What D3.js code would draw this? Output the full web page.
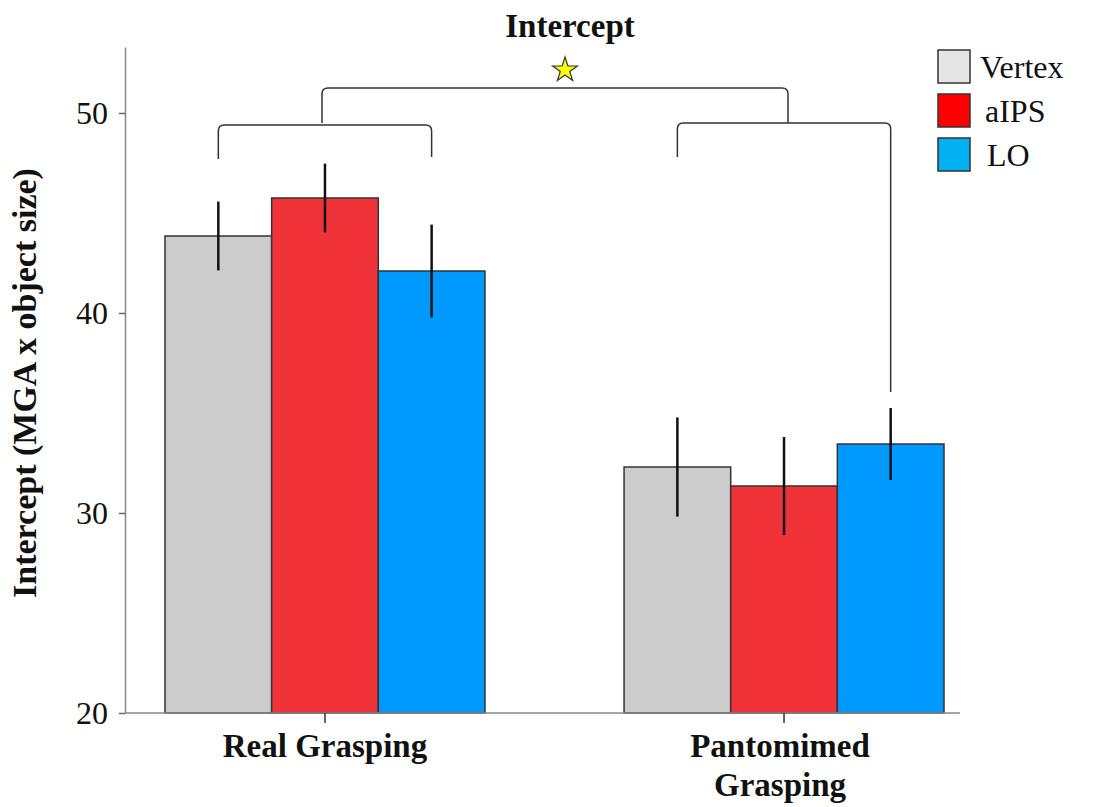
<!DOCTYPE html>
<html>
<head>
<meta charset="utf-8">
<script src="https://cdn.jsdelivr.net/npm/d3@7"></script>
<style>
  body { margin: 0; background: #fff; }
  svg text { font-family: "Liberation Serif", "Times New Roman", serif; fill: #111; }
</style>
</head>
<body>
<div id="chart"></div>
<script>
// data
var groups = ['Real Grasping', 'Pantomimed Grasping'];
var groupLabels = [['Real Grasping'], ['Pantomimed', 'Grasping']];
var series = ['Vertex', 'aIPS', 'LO'];
var vertexVals = [43.85, 32.3];
var aipsVals = [45.75, 31.35];
var loVals = [42.1, 33.45];
var vertexErr = [1.72, 2.48];
var aipsErr = [1.72, 2.45];
var loErr = [2.32, 1.8];
var yTicks = [20, 30, 40, 50];

var barColors = ['#cccccc', '#ef3339', '#0099ff'];
var legendColors = ['#e6e6e6', '#ff0000', '#00b0f0'];

var rows = [];
groups.forEach(function (g, i) {
  rows.push({ group: g, key: 'Vertex', value: vertexVals[i], err: vertexErr[i] });
  rows.push({ group: g, key: 'aIPS', value: aipsVals[i], err: aipsErr[i] });
  rows.push({ group: g, key: 'LO', value: loVals[i], err: loErr[i] });
});

var width = 1094, height = 807;

var svg = d3.select('#chart').append('svg')
  .attr('width', width)
  .attr('height', height);

var y = d3.scaleLinear().domain([20, 53.3]).range([713, 47]);
var x0 = d3.scaleBand().domain(groups).range([165, 944]).paddingInner(0.303).paddingOuter(0);
var x1 = d3.scaleBand().domain(series).range([0, x0.bandwidth()]);
var color = d3.scaleOrdinal().domain(series).range(barColors);

function cx(g, k) { return x0(g) + x1(k) + x1.bandwidth() / 2; }
function gx(g) { return x0(g) + x0.bandwidth() / 2; }

// y axis
var yAxis = svg.append('g')
  .attr('transform', 'translate(125,0)')
  .call(d3.axisLeft(y).tickValues(yTicks).tickSize(6).tickPadding(11).tickSizeOuter(0));
yAxis.select('.domain').attr('stroke', '#888').attr('stroke-width', 1.5);
yAxis.selectAll('.tick line').attr('stroke', '#666').attr('stroke-width', 1.5);
yAxis.selectAll('.tick text').attr('font-size', 32).attr('font-family', 'Liberation Serif').attr('fill', '#111');

// bars
svg.append('g').selectAll('rect')
  .data(rows)
  .enter().append('rect')
  .attr('x', function (d) { return x0(d.group) + x1(d.key); })
  .attr('y', function (d) { return y(d.value); })
  .attr('width', x1.bandwidth())
  .attr('height', function (d) { return y(20) - y(d.value); })
  .attr('fill', function (d) { return color(d.key); })
  .attr('stroke', '#333')
  .attr('stroke-width', 1.5);

// x axis line + ticks
svg.append('line')
  .attr('x1', 125).attr('x2', 960)
  .attr('y1', y(20)).attr('y2', y(20))
  .attr('stroke', '#888').attr('stroke-width', 1.5);

var xAxis = svg.append('g')
  .attr('transform', 'translate(0,' + y(20) + ')')
  .call(d3.axisBottom(x0).tickSize(10).tickSizeOuter(0).tickFormat(''));
xAxis.select('.domain').remove();
xAxis.selectAll('.tick line').attr('stroke', '#333').attr('stroke-width', 1.5);

// x group labels
groups.forEach(function (g, i) {
  var t = svg.append('text')
    .attr('text-anchor', 'middle')
    .attr('font-weight', 'bold')
    .attr('font-size', 33)
    .attr('x', gx(g) - 2)
    .attr('y', 757);
  groupLabels[i].forEach(function (line, j) {
    t.append('tspan').attr('x', gx(g) - (i === 0 ? 0 : 4)).attr('dy', j === 0 ? 0 : 39).text(line);
  });
});

// error bars
svg.append('g').selectAll('line')
  .data(rows)
  .enter().append('line')
  .attr('x1', function (d) { return cx(d.group, d.key); })
  .attr('x2', function (d) { return cx(d.group, d.key); })
  .attr('y1', function (d) { return y(d.value + d.err); })
  .attr('y2', function (d) { return y(d.value - d.err); })
  .attr('stroke', '#111')
  .attr('stroke-width', 2.5);

// significance brackets
var brackets = [
  { xa: cx('Real Grasping', 'Vertex'), xb: cx('Real Grasping', 'LO'), top: 49.4, legA: 47.7, legB: 47.8 },
  { xa: cx('Pantomimed Grasping', 'Vertex'), xb: cx('Pantomimed Grasping', 'LO'), top: 49.5, legA: 47.8, legB: 36.05 },
  { xa: gx('Real Grasping') - 3, xb: gx('Pantomimed Grasping') + 4, top: 51.25, legA: 49.5, legB: 49.5 }
];

function bracketPath(b) {
  var r = 6, t = y(b.top);
  return 'M' + b.xa + ',' + y(b.legA) +
    'L' + b.xa + ',' + (t + r) +
    'Q' + b.xa + ',' + t + ' ' + (b.xa + r) + ',' + t +
    'L' + (b.xb - r) + ',' + t +
    'Q' + b.xb + ',' + t + ' ' + b.xb + ',' + (t + r) +
    'L' + b.xb + ',' + y(b.legB);
}

svg.append('g').selectAll('path')
  .data(brackets)
  .enter().append('path')
  .attr('d', bracketPath)
  .attr('fill', 'none')
  .attr('stroke', '#333')
  .attr('stroke-width', 1.5);

// star
var starX = (brackets[2].xa + brackets[2].xb) / 2 + 10;
svg.append('path')
  .attr('d', d3.symbol(d3.symbolStar).size(190)())
  .attr('transform', 'translate(' + starX + ',' + y(52.15) + ')')
  .attr('fill', '#ffff00')
  .attr('stroke', '#333')
  .attr('stroke-width', 1.2);

// title
svg.append('text')
  .attr('x', 570)
  .attr('y', 37)
  .attr('text-anchor', 'middle')
  .attr('font-weight', 'bold')
  .attr('font-size', 33)
  .text('Intercept');

// y label
svg.append('text')
  .attr('transform', 'translate(36,' + ((y(20) + y(53.3)) / 2 + 3) + ') rotate(-90)')
  .attr('text-anchor', 'middle')
  .attr('font-weight', 'bold')
  .attr('font-size', 34)
  .text('Intercept (MGA x object size)');

// legend
var legend = svg.append('g').attr('transform', 'translate(938,50)');
var item = legend.selectAll('g')
  .data(series)
  .enter().append('g')
  .attr('transform', function (d, i) { return 'translate(0,' + (i * 44) + ')'; });

item.append('rect')
  .attr('width', 32)
  .attr('height', 33)
  .attr('fill', function (d, i) { return legendColors[i]; })
  .attr('stroke', '#333')
  .attr('stroke-width', 1.5);

item.append('text')
  .attr('x', function (d, i) { return [42, 47, 49][i]; })
  .attr('y', 28)
  .attr('font-size', 32)
  .text(function (d) { return d; });
</script>
</body>
</html>
